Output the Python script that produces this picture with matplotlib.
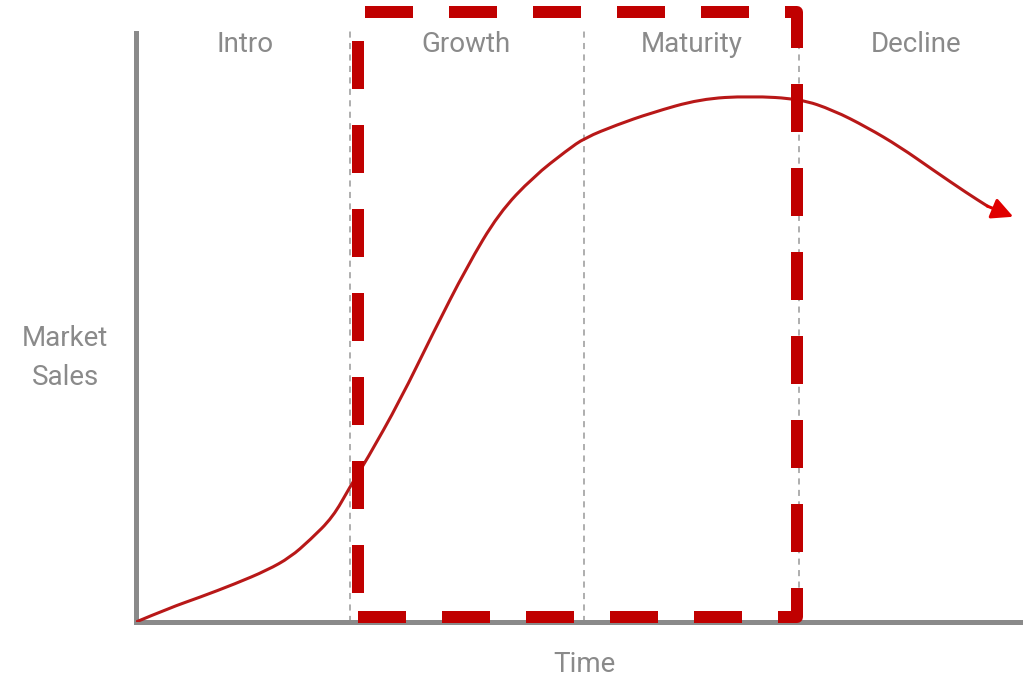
import matplotlib
matplotlib.use("Agg")
import matplotlib.pyplot as plt
from matplotlib.path import Path
from matplotlib.patches import PathPatch

# product life cycle curve (time 0-100, sales 0-100)
time = [0, 3.8, 7.2, 11.2, 14.8, 17.4, 19.6, 22.2, 24.1, 26.0, 29.8, 33.5,
        37.3, 40.9, 44.8, 48.6, 50.6, 54.2, 58.0, 63.6, 69.2, 74.9, 78.6,
        82.4, 86.1, 89.9, 93.7, 96.0]
sales = [0, 2.4, 4.2, 6.5, 8.8, 11.0, 13.9, 17.8, 22.9, 27.5, 37.7, 49.1,
         60.3, 69.4, 75.6, 80.1, 82.2, 84.4, 86.4, 88.8, 89.3, 88.8, 86.9,
         84.0, 80.7, 76.7, 72.8, 70.6]
arrow_tip = (98.9, 68.8)

# stage boundaries and labels
boundaries = [24.1, 50.5, 74.75]
stages = ["Intro", "Growth", "Maturity", "Decline"]
stage_x = [12.3, 37.2, 62.7, 87.9]

# highlighted region (Growth + Maturity)
box_x = [25.03, 25.03, 74.52, 74.52, 25.03]
box_y = [0.85, 103.57, 103.57, 0.85, 0.85]

grey = "#8a8a8a"
red = "#c00000"

plt.rcParams["font.family"] = ["Roboto", "DejaVu Sans"]

fig = plt.figure(figsize=(10.23, 6.81), dpi=100)
ax = fig.add_axes([136 / 1023, 59 / 681, 887 / 1023, 589 / 681])
ax.set_xlim(0, 100)
ax.set_ylim(0, 100)

for s in ["top", "right"]:
    ax.spines[s].set_visible(False)
for s in ["left", "bottom"]:
    ax.spines[s].set_color(grey)
    ax.spines[s].set_linewidth(3.6)
ax.set_xticks([])
ax.set_yticks([])

for b in boundaries:
    ax.plot([b, b], [0, 100.5], color="#999999", lw=1.1, ls=(0, (4, 3.5)),
            clip_on=False, zorder=1)

# smooth curve: read points used as quadratic bezier controls
pts = list(zip(time, sales))
verts = [pts[0]]
codes = [Path.MOVETO]
for i in range(1, len(pts) - 1):
    mid = ((pts[i][0] + pts[i + 1][0]) / 2, (pts[i][1] + pts[i + 1][1]) / 2)
    verts += [pts[i], mid]
    codes += [Path.CURVE3, Path.CURVE3]
verts.append(pts[-1])
codes.append(Path.LINETO)
ax.add_patch(PathPatch(Path(verts, codes), facecolor="none", edgecolor="#b81818",
                       lw=2.2, zorder=3, capstyle="round"))

ax.annotate("", xy=arrow_tip, xytext=(time[-1], sales[-1]),
            arrowprops=dict(arrowstyle="-|>", mutation_scale=32, color="#e00000",
                            lw=2.2, shrinkA=0, shrinkB=0), zorder=3)

ax.plot(box_x, box_y, color=red, lw=8.64, ls=(5, (4, 3)),
        dash_joinstyle="round", dash_capstyle="butt", clip_on=False, zorder=4)

for name, x in zip(stages, stage_x):
    ax.text(x, 98.1, name, ha="center", va="center", fontsize=20, color=grey)

ax.text(-8.0, 44.8, "Market\nSales", ha="center", va="center", fontsize=20,
        color=grey, linespacing=1.6)
ax.text(50.6, -7.3, "Time", ha="center", va="center", fontsize=20, color=grey)

fig.savefig("out.png", dpi=100)
